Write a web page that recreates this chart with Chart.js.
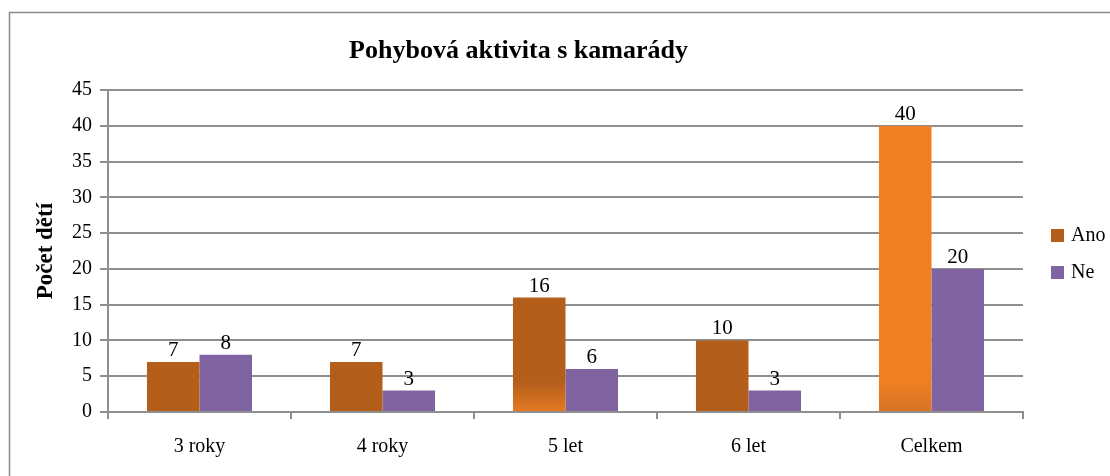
<!DOCTYPE html>
<html>
<head>
<meta charset="utf-8">
<script src="https://cdn.jsdelivr.net/npm/chart.js@4.4.1/dist/chart.umd.min.js"></script>
<style>
html,body{margin:0;padding:0;background:#fff;}
#wrap{width:1110px;height:476px;position:relative;}
</style>
</head>
<body>
<div id="wrap"><canvas id="c" width="1110" height="476"></canvas></div>
<script>
const categories = ["3 roky", "4 roky", "5 let", "6 let", "Celkem"];
const anoValues = [7, 7, 16, 10, 40];
const neValues = [8, 3, 6, 3, 20];
const yTicks = [0, 5, 10, 15, 20, 25, 30, 35, 40, 45];
const seriesNames = ["Ano", "Ne"];
const chartTitle = "Pohybová aktivita s kamarády";
const yTitle = "Počet dětí";

const BROWN = '#B35E1B', ORANGE = '#EF7F22', PURPLE = '#8064A2';
const GRID = '#8f8f8f';
const FONT = "'Liberation Serif', 'Times New Roman', serif";

function anoColor(ctx) {
  const chart = ctx.chart;
  const i = ctx.dataIndex;
  const el = chart.getDatasetMeta(ctx.datasetIndex).data[i];
  if (!el || !chart.chartArea) return BROWN;
  const bottom = chart.scales.y.getPixelForValue(0);
  const g = chart.ctx.createLinearGradient(0, bottom - 30, 0, bottom);
  if (categories[i] === 'Celkem') {
    g.addColorStop(0, ORANGE); g.addColorStop(1, '#D87326');
    return g;
  }
  if (categories[i] === '5 let') {
    g.addColorStop(0, BROWN); g.addColorStop(1, '#E67A23');
    return g;
  }
  return BROWN;
}

const borderPlugin = {
  id: 'outerBorder',
  beforeDraw(chart) {
    const c = chart.ctx;
    c.save();
    c.fillStyle = '#fff';
    c.fillRect(0, 0, chart.width, chart.height);
    c.strokeStyle = '#8a8a8a';
    c.lineWidth = 1.5;
    c.strokeRect(9.5, 12.5, 1200, 600);
    c.restore();
  }
};

const labelPlugin = {
  id: 'valueLabels',
  afterDatasetsDraw(chart) {
    const c = chart.ctx;
    c.save();
    c.font = "21px " + FONT;
    c.fillStyle = '#000';
    c.textAlign = 'center';
    c.textBaseline = 'alphabetic';
    chart.data.datasets.forEach((ds, di) => {
      const meta = chart.getDatasetMeta(di);
      meta.data.forEach((el, i) => {
        c.fillText(String(ds.data[i]), el.x, el.y - 6);
      });
    });
    c.restore();
  }
};

const legendPlugin = {
  id: 'customLegend',
  afterDraw(chart) {
    const c = chart.ctx;
    c.save();
    c.font = "20px " + FONT;
    c.textBaseline = 'middle';
    c.textAlign = 'left';
    const cols = [BROWN, PURPLE];
    seriesNames.forEach((n, i) => {
      const y = 235 + i * 37;
      c.fillStyle = cols[i];
      c.fillRect(1051, y - 6, 13, 13);
      c.fillStyle = '#000';
      c.fillText(n, 1071, y + 1);
    });
    c.restore();
  }
};

new Chart(document.getElementById('c'), {
  type: 'bar',
  data: {
    labels: categories,
    datasets: [
      { label: seriesNames[0], data: anoValues, backgroundColor: anoColor, categoryPercentage: 0.574, barPercentage: 1 },
      { label: seriesNames[1], data: neValues, backgroundColor: PURPLE, categoryPercentage: 0.574, barPercentage: 1 }
    ]
  },
  options: {
    responsive: false,
    animation: false,
    devicePixelRatio: 1,
    layout: { padding: { top: 0, right: 87, bottom: 0, left: 14 } },
    plugins: {
      legend: { display: false },
      tooltip: { enabled: false },
      title: {
        display: true,
        text: chartTitle,
        color: '#000',
        font: { family: FONT, size: 26, weight: 'bold' },
        padding: { top: 36, bottom: 23 }
      }
    },
    scales: {
      x: {
        offset: true,
        grid: { display: true, offset: true, drawOnChartArea: false, drawTicks: true, tickLength: 7, color: GRID, lineWidth: 2 },
        border: { display: true, color: GRID, width: 2 },
        ticks: { color: '#000', font: { family: FONT, size: 20 }, padding: 16, maxRotation: 0 },
        afterFit(s) { s.height = 64; }
      },
      y: {
        min: 0, max: 45,
        afterBuildTicks(s) { s.ticks = yTicks.map(v => ({ value: v })); },
        grid: { color: GRID, lineWidth: 2, drawTicks: true, tickLength: 8 },
        border: { display: true, color: GRID, width: 2 },
        ticks: { color: '#000', font: { family: FONT, size: 20 }, padding: 8 },
        title: {
          display: true, text: yTitle, color: '#000',
          font: { family: FONT, size: 23, weight: 'bold' },
          padding: { top: 18, bottom: 0 }
        },
        afterFit(s) { s.width = 94; }
      }
    }
  },
  plugins: [borderPlugin, labelPlugin, legendPlugin]
});
</script>
</body>
</html>
